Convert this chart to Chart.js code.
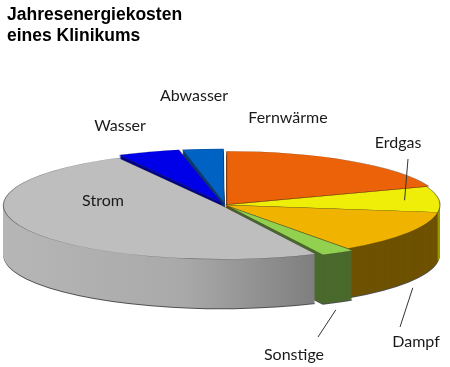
<!DOCTYPE html>
<html>
<head>
<meta charset="utf-8">
<script src="https://cdn.jsdelivr.net/npm/chart.js@4"></script>
<style>
  html, body { margin: 0; padding: 0; background: #fff; }
  #wrap { width: 450px; height: 367px; }
</style>
</head>
<body>
<div id="wrap"><canvas id="pie" width="450" height="367"></canvas></div>
<script>
// Anteile an den Jahresenergiekosten (%), im Uhrzeigersinn ab 12 Uhr
const categories = ['Fernwärme', 'Erdgas', 'Dampf', 'Sonstige', 'Strom', 'Wasser', 'Abwasser'];
const shares = [19.4, 7.8, 13.1, 2.6, 49.3, 4.7, 3.1];

const topColors = ['#EC6208', '#EEEE08', '#F0B400', '#92D050', '#BEBEBE', '#0000E8', '#0062C2'];
const sideColors = ['#9A4004', '#9A9A00', '#6E5200', '#4A6A2C', null, '#000090', '#003A80'];
const explode = [8, 0, 0, 14, 10, 22, 20]; // px, Chart.js offset

// Projektion der Tortenfläche
const CX = 225, CY = 205, RX = 215, RY = 53, DEPTH = 50;

// Beschriftungen (Textmitte) und Hinweislinien
const labelPos = {
    'Fernwärme': [288, 118], 'Erdgas': [398, 143], 'Dampf': [416, 342],
    'Sonstige': [294, 355], 'Strom': [103, 201], 'Wasser': [120, 126], 'Abwasser': [194, 96],
};
const leaders = [
    { name: 'Erdgas', from: [408, 159], frac: 0.5, f: 0.84, d: 0 },
    { name: 'Dampf', from: [400, 327], frac: 0.45, f: 1, d: DEPTH + 7 },
    { name: 'Sonstige', from: [318, 337], frac: 0.5, f: 1, d: DEPTH + 8 },
];

// vorderster Punkt eines Segments (für die Zeichenreihenfolge)
function frontKey(arc) {
    const s = arc.startAngle, e = arc.endAngle;
    let best = Math.max(Math.sin(s), Math.sin(e));
    for (let k = -2; k <= 2; k++) {
        const a = Math.PI / 2 + k * 2 * Math.PI;
        if (a > s && a < e) best = 1;
    }
    return best;
}

const pie3d = {
    id: 'pie3d',
    beforeDatasetsDraw(chart) {
        const ctx = chart.ctx;
        const arcs = chart.getDatasetMeta(0).data;
        const r = arcs[0].outerRadius;
        const sx = RX / r, sy = RY / r;

        const place = (arc, d) => {
            ctx.translate(CX, CY + d);
            ctx.scale(sx, sy);
            ctx.translate(-arc.x, -arc.y);
        };
        const drawAs = (arc, fill, bw) => {
            const o = arc.options;
            arc.options = Object.assign({}, o, { backgroundColor: fill, borderWidth: bw });
            arc.draw(ctx);
            arc.options = o;
        };
        const proj = (arc, ang, f, d) => {
            const mid = (arc.startAngle + arc.endAngle) / 2;
            const off = (arc.options.offset || 0) / 4;
            const px = Math.cos(ang) * f * r + Math.cos(mid) * off;
            const py = Math.sin(ang) * f * r + Math.sin(mid) * off;
            return [CX + px * sx, CY + py * sy + d];
        };

        // Seitenwände, von hinten nach vorne
        const order = arcs.map((a, i) => i).sort((a, b) => frontKey(arcs[a]) - frontKey(arcs[b]));
        order.forEach(i => {
            const arc = arcs[i];
            let fill = sideColors[i];
            if (!fill) {
                fill = ctx.createLinearGradient(arc.x - r, 0, arc.x + r * 0.5, 0);
                fill.addColorStop(0, '#B6B6B6');
                fill.addColorStop(0.55, '#A9A9A9');
                fill.addColorStop(1, '#7A7A7A');
            }
            for (let d = DEPTH; d >= 1; d -= 1) {
                ctx.save();
                place(arc, d);
                drawAs(arc, d === DEPTH ? 'rgba(60,60,60,0.9)' : fill, 0);
                ctx.restore();
            }
        });

        // Oberflächen
        arcs.forEach(arc => {
            ctx.save();
            place(arc, 0);
            arc.draw(ctx);
            ctx.restore();
        });

        // Beschriftung
        ctx.save();
        ctx.fillStyle = '#1a1a1a';
        ctx.font = '16px Lato, "Open Sans", sans-serif';
        ctx.textAlign = 'center';
        ctx.textBaseline = 'middle';
        categories.forEach(c => {
            const p = labelPos[c];
            ctx.fillText(c, p[0], p[1]);
        });
        ctx.strokeStyle = '#333';
        ctx.lineWidth = 1;
        leaders.forEach(l => {
            const arc = arcs[categories.indexOf(l.name)];
            const ang = arc.startAngle + (arc.endAngle - arc.startAngle) * l.frac;
            const to = proj(arc, ang, l.f, l.d);
            ctx.beginPath();
            ctx.moveTo(l.from[0], l.from[1]);
            ctx.lineTo(to[0], to[1]);
            ctx.stroke();
        });
        ctx.restore();
        return false;
    }
};

new Chart(document.getElementById('pie'), {
    type: 'pie',
    data: {
        labels: categories,
        datasets: [{
            data: shares,
            backgroundColor: topColors,
            borderColor: 'rgba(50,50,50,0.55)',
            borderWidth: 0.8,
            offset: explode,
            hoverOffset: 0,
        }],
    },
    options: {
        responsive: false,
        animation: false,
        events: [],
        layout: { padding: { left: 7, top: 0 } },
        plugins: {
            legend: { display: false },
            tooltip: { enabled: false },
            title: {
                display: true,
                text: ['Jahresenergiekosten', 'eines Klinikums'],
                align: 'start',
                color: '#000',
                font: { family: '"Liberation Sans", Arial, sans-serif', size: 17.5, weight: 'bold', lineHeight: 1.22 },
                padding: { top: 4, bottom: 0 },
            },
        },
    },
    plugins: [pie3d],
});
</script>
</body>
</html>
